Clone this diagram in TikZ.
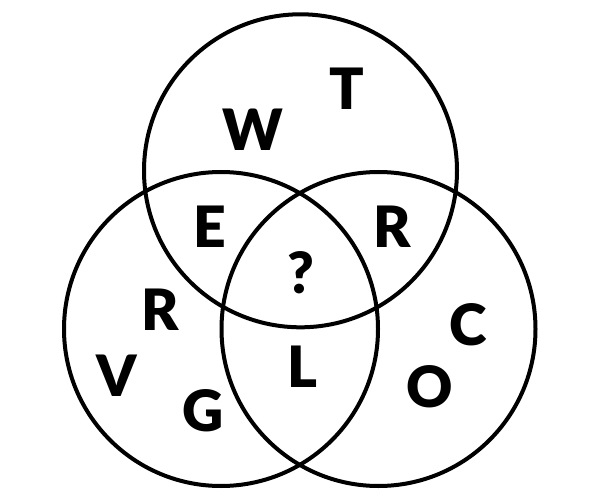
\documentclass[tikz,border=0pt]{standalone}
\usepackage{fontspec}
\setmainfont{Lato}[BoldFont={Lato Black}]
\begin{document}
\begin{tikzpicture}[x=1pt,y=-1pt,
  ring/.style={draw=black,line width=4pt},
  letter/.style={inner sep=0pt,outer sep=0pt,anchor=base,font=\fontsize{57}{57}\selectfont\bfseries}]
\useasboundingbox (0,0) rectangle (600,500);
\fill[white] (0,0) rectangle (600,500);
\draw[ring] (300.5,170.8) circle[radius=156.5] coordinate (top);
\draw[ring] (221,329) circle[radius=157] coordinate (left);
\draw[ring] (378.5,329) circle[radius=157] coordinate (right);
\node[letter] (t) at (347,110) {T};
\node[letter] (w) at (253,150) {W};
\node[letter] (e) at (210,247) {E};
\node[letter] (r1) at (392.5,247) {R};
\node[letter] (q) at (300.5,293) {?};
\node[letter] (r2) at (160,330) {R};
\node[letter] (c) at (468,345) {C};
\node[letter] (v) at (117,396) {V};
\node[letter] (l) at (302,387.7) {L};
\node[letter] (o) at (430,407) {O};
\node[letter] (g) at (203,431) {G};
\end{tikzpicture}
\end{document}
